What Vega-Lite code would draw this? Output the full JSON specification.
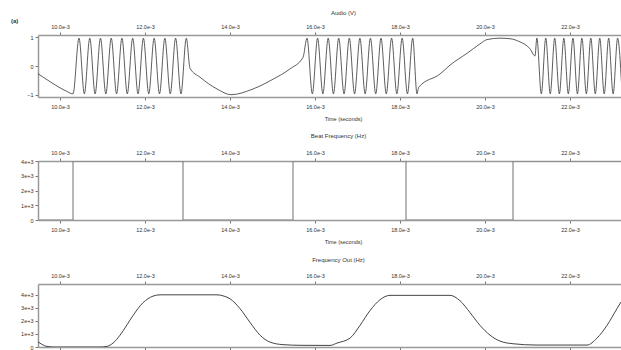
{
  "$schema": "https://vega.github.io/schema/vega-lite/v6.json",
  "padding": {"left": 11, "top": 9, "right": 0, "bottom": 0},
  "background": "white",
  "title": {"text": "(a)", "anchor": "start", "fontSize": 6, "fontWeight": "bold", "offset": -14, "color": "#333"},
  "spacing": 11,
  "datasets": {
    "audio": [
      {"t": 9.482, "v": -0.27}, {"t": 9.718, "v": -0.5}, {"t": 9.953, "v": -0.72}, {"t": 10.141, "v": -0.87}, {"t": 10.306, "v": -0.97},
      {"t": 10.447, "v": 0.97}, {"t": 10.573, "v": -0.97}, {"t": 10.7, "v": 0.97}, {"t": 10.826, "v": -0.97}, {"t": 10.952, "v": 0.97},
      {"t": 11.078, "v": -0.97}, {"t": 11.205, "v": 0.97}, {"t": 11.331, "v": -0.97}, {"t": 11.457, "v": 0.97}, {"t": 11.583, "v": -0.97},
      {"t": 11.71, "v": 0.97}, {"t": 11.836, "v": -0.97}, {"t": 11.962, "v": 0.97}, {"t": 12.088, "v": -0.97}, {"t": 12.215, "v": 0.97},
      {"t": 12.341, "v": -0.97}, {"t": 12.467, "v": 0.97}, {"t": 12.594, "v": -0.97}, {"t": 12.72, "v": 0.97}, {"t": 12.846, "v": -0.97},
      {"t": 12.972, "v": 0.97},
      {"t": 13.059, "v": -0.08}, {"t": 13.294, "v": -0.39}, {"t": 13.694, "v": -0.8}, {"t": 14.024, "v": -1.0}, {"t": 14.541, "v": -0.8},
      {"t": 15.012, "v": -0.46}, {"t": 15.412, "v": -0.1}, {"t": 15.718, "v": 0.3},
      {"t": 15.812, "v": 0.97}, {"t": 15.937, "v": -0.97}, {"t": 16.061, "v": 0.97}, {"t": 16.185, "v": -0.97}, {"t": 16.31, "v": 0.97},
      {"t": 16.434, "v": -0.97}, {"t": 16.558, "v": 0.97}, {"t": 16.683, "v": -0.97}, {"t": 16.807, "v": 0.97}, {"t": 16.931, "v": -0.97},
      {"t": 17.056, "v": 0.97}, {"t": 17.18, "v": -0.97}, {"t": 17.304, "v": 0.97}, {"t": 17.429, "v": -0.97}, {"t": 17.553, "v": 0.97},
      {"t": 17.677, "v": -0.97}, {"t": 17.802, "v": 0.97}, {"t": 17.926, "v": -0.97}, {"t": 18.05, "v": 0.97}, {"t": 18.175, "v": -0.97},
      {"t": 18.299, "v": 0.97}, {"t": 18.4, "v": -0.97},
      {"t": 18.44, "v": -0.74}, {"t": 18.941, "v": -0.28}, {"t": 19.176, "v": 0.03}, {"t": 19.576, "v": 0.44}, {"t": 19.882, "v": 0.77},
      {"t": 20.047, "v": 0.92}, {"t": 20.353, "v": 0.97}, {"t": 20.588, "v": 0.95}, {"t": 20.824, "v": 0.84}, {"t": 21.059, "v": 0.6},
      {"t": 21.176, "v": 0.35},
      {"t": 21.22, "v": 0.97}, {"t": 21.325, "v": -0.97}, {"t": 21.43, "v": 0.97}, {"t": 21.535, "v": -0.97}, {"t": 21.64, "v": 0.97},
      {"t": 21.75, "v": -0.97}, {"t": 21.855, "v": 0.97}, {"t": 21.96, "v": -0.97}, {"t": 22.07, "v": 0.97}, {"t": 22.175, "v": -0.97},
      {"t": 22.28, "v": 0.97}, {"t": 22.385, "v": -0.97}, {"t": 22.49, "v": 0.97}, {"t": 22.595, "v": -0.97}, {"t": 22.7, "v": 0.97},
      {"t": 22.805, "v": -0.97}, {"t": 22.91, "v": 0.97}, {"t": 23.015, "v": -0.97}, {"t": 23.12, "v": 0.97}, {"t": 23.225, "v": -0.97}
    ],
    "beat": [
      {"t": 9.482, "v": 0}, {"t": 10.306, "v": 4000}, {"t": 12.894, "v": 0}, {"t": 15.482, "v": 4000},
      {"t": 18.141, "v": 0}, {"t": 20.659, "v": 4000}, {"t": 23.2, "v": 4000}
    ],
    "freq": [
      {"t": 9.482, "v": 400}, {"t": 9.576, "v": 200}, {"t": 9.694, "v": 40}, {"t": 9.882, "v": 0}, {"t": 10.941, "v": 0},
      {"t": 11.106, "v": 50}, {"t": 11.247, "v": 300}, {"t": 11.412, "v": 906}, {"t": 11.576, "v": 1700}, {"t": 11.718, "v": 2415},
      {"t": 11.953, "v": 3396}, {"t": 12.188, "v": 3900}, {"t": 12.353, "v": 4000}, {"t": 13.694, "v": 4000}, {"t": 13.859, "v": 3900},
      {"t": 14.0, "v": 3698}, {"t": 14.235, "v": 2943}, {"t": 14.471, "v": 1887}, {"t": 14.706, "v": 906}, {"t": 14.941, "v": 377},
      {"t": 15.247, "v": 180}, {"t": 15.647, "v": 130}, {"t": 16.353, "v": 120}, {"t": 16.518, "v": 302}, {"t": 16.824, "v": 679},
      {"t": 17.059, "v": 1660}, {"t": 17.294, "v": 2792}, {"t": 17.529, "v": 3623}, {"t": 17.765, "v": 3960}, {"t": 19.176, "v": 3960},
      {"t": 19.412, "v": 3547}, {"t": 19.647, "v": 2642}, {"t": 19.882, "v": 1660}, {"t": 20.118, "v": 906}, {"t": 20.353, "v": 453},
      {"t": 20.659, "v": 250}, {"t": 21.2, "v": 150}, {"t": 22.4, "v": 150}, {"t": 22.635, "v": 679}, {"t": 22.871, "v": 1660},
      {"t": 23.106, "v": 2943}, {"t": 23.2, "v": 3450}
    ]
  },
  "vconcat": [
    {
      "width": 583, "height": 62,
      "title": {"text": "Audio (V)", "offset": 8.5, "dx": 14},
      "data": {"name": "audio"},
      "resolve": {"axis": {"x": "independent"}},
      "layer": [
        {
          "mark": {"type": "line", "color": "#333", "strokeWidth": 0.8, "interpolate": "monotone", "clip": true},
          "encoding": {
            "x": {"field": "t", "type": "quantitative", "scale": {"domain": [9.482, 23.2], "nice": false, "zero": false},
                  "axis": {"orient": "bottom", "title": "Time (seconds)", "titleX": 305, "labelPadding": 4, "titlePadding": 7, "values": [10, 12, 14, 16, 18, 20, 22], "labelExpr": "format(datum.value, '.1f') + 'e-3'"}},
            "y": {"field": "v", "type": "quantitative", "scale": {"domain": [-1.08, 1.08], "nice": false},
                  "axis": {"values": [-1, 0, 1], "title": null}}
          }
        },
        {
          "mark": {"type": "line", "opacity": 0},
          "encoding": {
            "x": {"field": "t", "type": "quantitative",
                  "axis": {"orient": "top", "title": null, "labelPadding": 3, "values": [10, 12, 14, 16, 18, 20, 22], "labelExpr": "format(datum.value, '.1f') + 'e-3'"}},
            "y": {"field": "v", "type": "quantitative", "axis": {"values": [-1, 0, 1], "title": null}}
          }
        }
      ]
    },
    {
      "width": 583, "height": 59,
      "title": {"text": "Beat Frequency (Hz)", "offset": 11, "dx": 9},
      "data": {"name": "beat"},
      "resolve": {"axis": {"x": "independent"}},
      "layer": [
        {
          "mark": {"type": "line", "color": "#888", "strokeWidth": 1.2, "interpolate": "step-after", "clip": true},
          "encoding": {
            "x": {"field": "t", "type": "quantitative", "scale": {"domain": [9.482, 23.2], "nice": false, "zero": false},
                  "axis": {"orient": "bottom", "title": "Time (seconds)", "titleX": 305, "labelPadding": 4, "titlePadding": 7, "values": [10, 12, 14, 16, 18, 20, 22], "labelExpr": "format(datum.value, '.1f') + 'e-3'"}},
            "y": {"field": "v", "type": "quantitative", "scale": {"domain": [0, 4000], "nice": false},
                  "axis": {"values": [0, 1000, 2000, 3000, 4000], "title": null, "labelExpr": "datum.value == 0 ? '0' : (datum.value / 1000) + 'e+3'"}}
          }
        },
        {
          "mark": {"type": "line", "opacity": 0},
          "encoding": {
            "x": {"field": "t", "type": "quantitative",
                  "axis": {"orient": "top", "title": null, "labelPadding": 3, "values": [10, 12, 14, 16, 18, 20, 22], "labelExpr": "format(datum.value, '.1f') + 'e-3'"}},
            "y": {"field": "v", "type": "quantitative",
                  "axis": {"values": [0, 1000, 2000, 3000, 4000], "title": null, "labelExpr": "datum.value == 0 ? '0' : (datum.value / 1000) + 'e+3'"}}
          }
        }
      ]
    },
    {
      "width": 583, "height": 63,
      "title": {"text": "Frequency Out (Hz)", "offset": 10.5, "dx": 9},
      "data": {"name": "freq"},
      "resolve": {"axis": {"x": "independent"}},
      "layer": [
        {
          "mark": {"type": "line", "color": "#444", "strokeWidth": 1, "interpolate": "monotone", "clip": true},
          "encoding": {
            "x": {"field": "t", "type": "quantitative", "scale": {"domain": [9.482, 23.2], "nice": false, "zero": false},
                  "axis": {"orient": "bottom", "title": null, "labels": false, "values": [10, 12, 14, 16, 18, 20, 22]}},
            "y": {"field": "v", "type": "quantitative", "scale": {"domain": [0, 4830], "nice": false},
                  "axis": {"values": [0, 1000, 2000, 3000, 4000], "title": null, "labelExpr": "datum.value == 0 ? '0' : (datum.value / 1000) + 'e+3'"}}
          }
        },
        {
          "mark": {"type": "line", "opacity": 0},
          "encoding": {
            "x": {"field": "t", "type": "quantitative",
                  "axis": {"orient": "top", "title": null, "labelPadding": 3, "values": [10, 12, 14, 16, 18, 20, 22], "labelExpr": "format(datum.value, '.1f') + 'e-3'"}},
            "y": {"field": "v", "type": "quantitative",
                  "axis": {"values": [0, 1000, 2000, 3000, 4000], "title": null, "labelExpr": "datum.value == 0 ? '0' : (datum.value / 1000) + 'e+3'"}}
          }
        }
      ]
    }
  ],
  "config": {
    "font": "Liberation Sans",
    "view": {"stroke": null},
    "title": {"fontSize": 6, "fontWeight": "normal", "color": "#333", "anchor": "middle"},
    "axis": {
      "grid": false,
      "domainColor": "#999",
      "domainWidth": 1.5,
      "tickColor": "#777",
      "tickSize": 3,
      "labelFontSize": 5.5,
      "labelColor": "#333",
      "labelPadding": 2,
      "titleFontSize": 5.5,
      "titleFontWeight": "normal",
      "titleColor": "#333",
      "titlePadding": 5
    },
    "axisY": {"minExtent": 27, "maxExtent": 27}
  }
}
